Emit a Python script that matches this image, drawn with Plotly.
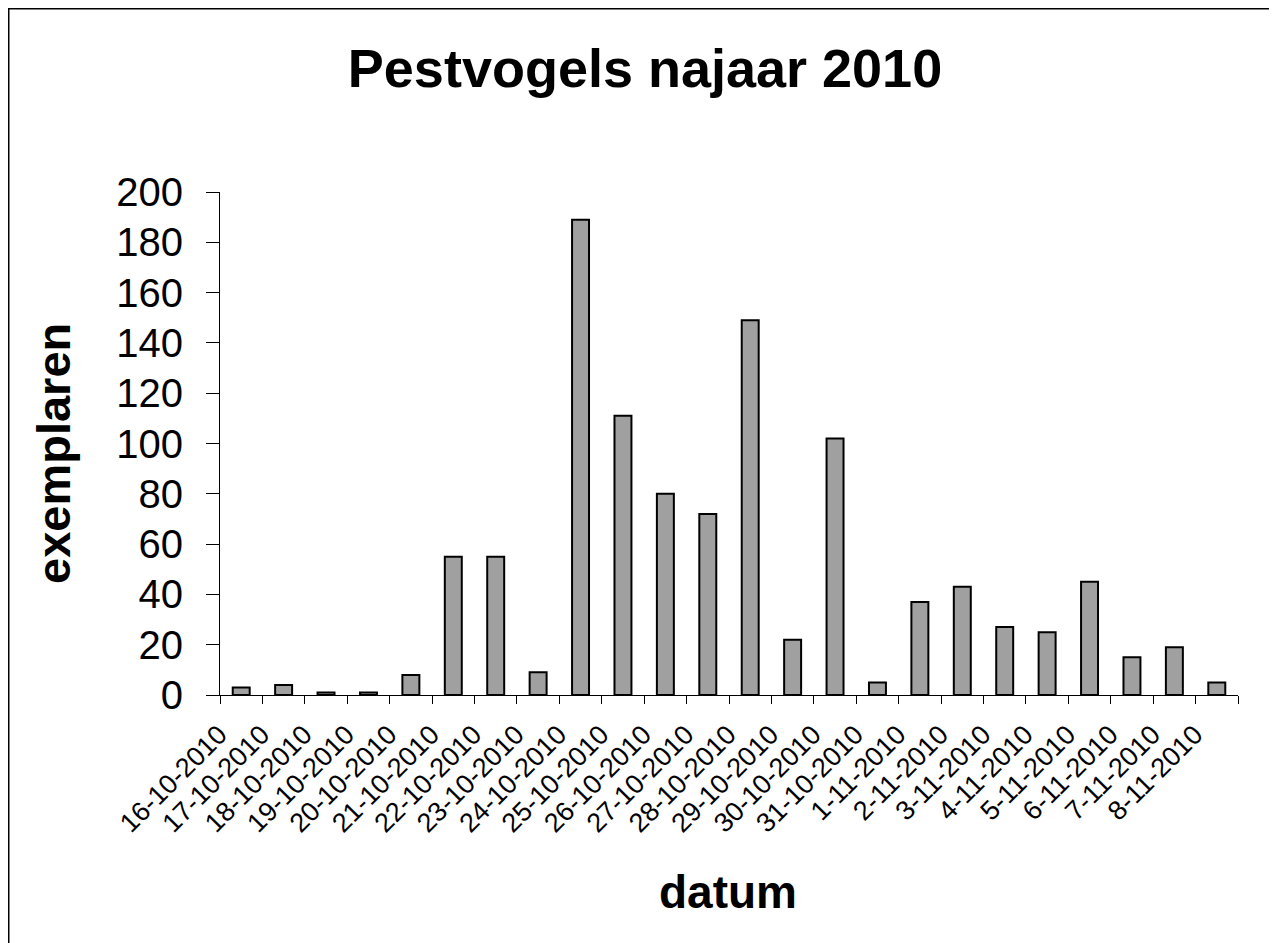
import plotly.graph_objects as go

dates = ["16-10-2010", "17-10-2010", "18-10-2010", "19-10-2010", "20-10-2010",
         "21-10-2010", "22-10-2010", "23-10-2010", "24-10-2010", "25-10-2010",
         "26-10-2010", "27-10-2010", "28-10-2010", "29-10-2010", "30-10-2010",
         "31-10-2010", "1-11-2010", "2-11-2010", "3-11-2010", "4-11-2010",
         "5-11-2010", "6-11-2010", "7-11-2010", "8-11-2010"]
counts = [3, 4, 1, 1, 8, 55, 55, 9, 189, 111, 80, 72, 149, 22, 102, 5,
          37, 43, 27, 25, 45, 15, 19, 5]

FONT = "Liberation Sans, Arial, sans-serif"

fig = go.Figure(go.Bar(
    x=dates, y=counts, width=0.4,
    marker=dict(color="#a0a0a0", line=dict(color="black", width=2)),
))

OFF = 8  # page body margin
W, H = 1277 - OFF, 943 - OFF
L, T = 220 - OFF, 192 - OFF
R = W - (1238 - OFF)
B = H - (695 - OFF)
pw, ph = W - L - R, H - T - B

def px_x(p):  # p: page pixel (reference coords)
    return (p - OFF - L) / pw

def px_y(p):
    return (H - B - (p - OFF)) / ph

fig.update_layout(
    width=W, height=H,
    margin=dict(l=L, r=R, t=T, b=B, autoexpand=False),
    paper_bgcolor="white", plot_bgcolor="white",
    showlegend=False,
    font=dict(family=FONT, color="black"),
    title=dict(text="<b>Pestvogels najaar 2010</b>", x=(645 - OFF) / W, xanchor="center",
               y=1 - (68 - OFF) / H, yanchor="middle", yref="container",
               font=dict(size=54, family=FONT, color="black")),
    xaxis=dict(type="category", range=[-0.5, len(dates) - 0.5],
               tickson="boundaries", ticks="outside", ticklen=8, tickcolor="black",
               showline=True, linecolor="black", linewidth=1, showgrid=False,
               tickangle=-45, ticklabelstandoff=12, ticklabelshift=-22,
               tickfont=dict(size=27, family=FONT, color="black")),
    yaxis=dict(range=[0, 200], dtick=20, ticks="outside", ticklen=13, tickcolor="black",
               showline=True, linecolor="black", linewidth=1, showgrid=False,
               zeroline=False, ticklabelstandoff=15,
               tickfont=dict(size=40, family=FONT, color="black")),
    annotations=[
        dict(text="<b>exemplaren</b>", xref="paper", yref="paper",
             x=px_x(53), y=px_y(454), textangle=-90, showarrow=False,
             xanchor="center", yanchor="middle",
             font=dict(size=47, family=FONT, color="black")),
        dict(text="<b>datum</b>", xref="paper", yref="paper",
             x=px_x(728), y=px_y(892), showarrow=False,
             xanchor="center", yanchor="middle",
             font=dict(size=46, family=FONT, color="black")),
    ],
    shapes=[dict(type="rect", xref="paper", yref="paper",
                 x0=px_x(OFF + 0.5), x1=px_x(1300), y0=px_y(960), y1=px_y(OFF + 0.5),
                 line=dict(color="black", width=2), fillcolor="rgba(0,0,0,0)",
                 layer="below")],
)

fig.write_html("out.html")
